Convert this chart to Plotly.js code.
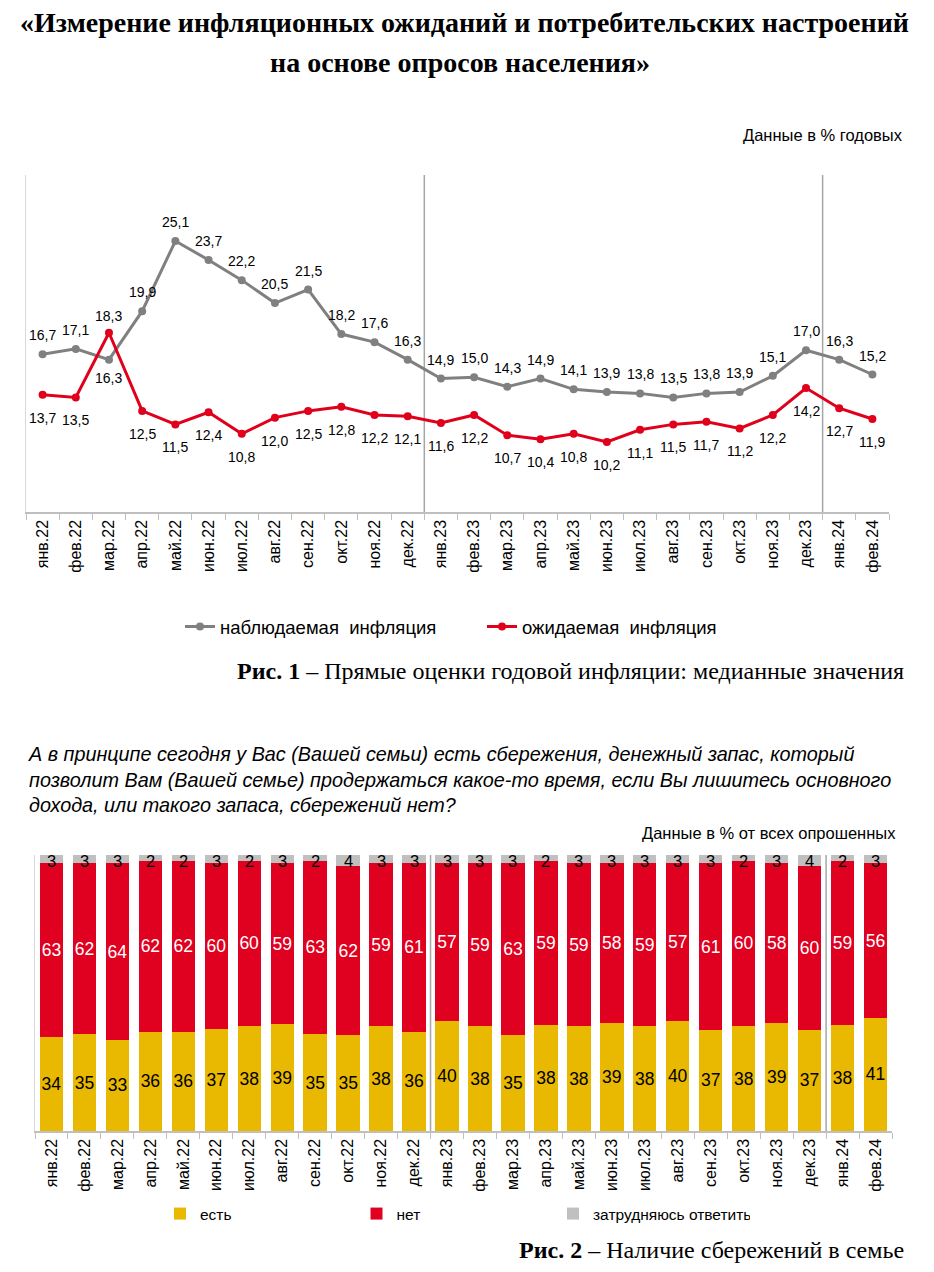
<!DOCTYPE html>
<html>
<head>
<meta charset="utf-8">
<script src="https://cdn.plot.ly/plotly-3.0.1.min.js"></script>
<style>
html,body{margin:0;padding:0;background:#fff;overflow:hidden;}
#chart{width:934px;height:1272px;}
</style>
</head>
<body>
<div id="chart"></div>
<script>
// ---------- DATA ----------
const months = ["янв.22","фев.22","мар.22","апр.22","май.22","июн.22","июл.22","авг.22","сен.22","окт.22","ноя.22","дек.22",
  "янв.23","фев.23","мар.23","апр.23","май.23","июн.23","июл.23","авг.23","сен.23","окт.23","ноя.23","дек.23","янв.24","фев.24"];
const observedInflation = [16.7,17.1,16.3,19.9,25.1,23.7,22.2,20.5,21.5,18.2,17.6,16.3,14.9,15.0,14.3,14.9,14.1,13.9,13.8,13.5,13.8,13.9,15.1,17.0,16.3,15.2];
const expectedInflation = [13.7,13.5,18.3,12.5,11.5,12.4,10.8,12.0,12.5,12.8,12.2,12.1,11.6,12.2,10.7,10.4,10.8,10.2,11.1,11.5,11.7,11.2,12.2,14.2,12.7,11.9];
const savingsYes = [34,35,33,36,36,37,38,39,35,35,38,36,40,38,35,38,38,39,38,40,37,38,39,37,38,41];
const savingsNo = [63,62,64,62,62,60,60,59,63,62,59,61,57,59,63,59,59,58,59,57,61,60,58,60,59,56];
const savingsHard = [3,3,3,2,2,3,2,3,2,4,3,3,3,3,3,2,3,3,3,3,3,2,3,4,2,3];
const seriesNames1 = ["наблюдаемая\u00a0 инфляция","ожидаемая\u00a0 инфляция"];
const seriesNames2 = ["есть","нет","затрудняюсь ответить"];
// ---------- STYLE ----------
const W = 934, H = 1272;
const px = x => x / W, py = y => 1 - y / H;
const SANS = "Liberation Sans, Arial, sans-serif";
const SERIF = "Liberation Serif, Times New Roman, serif";
const GRAY = "#808080", RED = "#E0001B", BAR_RED = "#E00020", YEL = "#E9B800", LGRAY = "#C0C0C0";
const fmt = v => v.toFixed(1).replace('.', ',');

const traces = [
  {x: months, y: observedInflation, name: seriesNames1[0], type: "scatter", mode: "lines+markers",
   line: {color: GRAY, width: 3}, marker: {color: GRAY, size: 8},
   xaxis: "x", yaxis: "y", legend: "legend", cliponaxis: false, hoverinfo: "skip"},
  {x: months, y: expectedInflation, name: seriesNames1[1], type: "scatter", mode: "lines+markers",
   line: {color: RED, width: 3}, marker: {color: RED, size: 8},
   xaxis: "x", yaxis: "y", legend: "legend", cliponaxis: false, hoverinfo: "skip"},
  {x: months, y: savingsYes, name: seriesNames2[0], type: "bar", marker: {color: YEL},
   text: savingsYes.map(String), textposition: "inside", insidetextanchor: "middle", constraintext: "none", textangle: 0,
   insidetextfont: {family: SANS, size: 17.5, color: "#000"}, xaxis: "x2", yaxis: "y2", legend: "legend2", hoverinfo: "skip"},
  {x: months, y: savingsNo, name: seriesNames2[1], type: "bar", marker: {color: BAR_RED},
   text: savingsNo.map(String), textposition: "inside", insidetextanchor: "middle", constraintext: "none", textangle: 0,
   insidetextfont: {family: SANS, size: 17.5, color: "#fff"}, xaxis: "x2", yaxis: "y2", legend: "legend2", hoverinfo: "skip"},
  {x: months, y: savingsHard, name: seriesNames2[2], type: "bar", marker: {color: LGRAY},
   textposition: "none", xaxis: "x2", yaxis: "y2", legend: "legend2", hoverinfo: "skip"}
];

// data labels for the line chart (placed through the axes, shifted above / below the points)
const labelAnns = [];
months.forEach((m, i) => {
  const o = observedInflation[i], e = expectedInflation[i];
  const obsAbove = o >= e;
  labelAnns.push({x: m, y: o, xref: "x", yref: "y", text: fmt(o), showarrow: false, xanchor: "center", yanchor: "middle",
    yshift: obsAbove ? 19 : -18, font: {family: SANS, size: 14, color: "#000"}});
  labelAnns.push({x: m, y: e, xref: "x", yref: "y", text: fmt(e), showarrow: false, xanchor: "center", yanchor: "middle",
    yshift: obsAbove ? -23 : 17, font: {family: SANS, size: 14, color: "#000"}});
});
// labels of the thin "затрудняюсь ответить" segments at the top of each (100 %) bar
months.forEach((m, i) => {
  labelAnns.push({x: m, y: 100, xref: "x2", yref: "y2", text: String(savingsHard[i]), showarrow: false,
    xanchor: "center", yanchor: "middle", yshift: -6, font: {family: SANS, size: 16.5, color: "#000"}});
});

const sep1 = months.indexOf("янв.23") - 0.5;
const sep2 = months.indexOf("янв.24") - 0.5;
const sepLine = (xref, yref, x) => ({type: "line", xref: xref, yref: yref + " domain", x0: x, x1: x, y0: 0, y1: 1,
  line: {color: "#A6A6A6", width: 1.5}, layer: "below"});

const tickFont = {family: SANS, size: 16, color: "#000"};
const layout = {
  width: W, height: H, margin: {l: 0, r: 0, t: 0, b: 0},
  paper_bgcolor: "#fff", plot_bgcolor: "#fff", showlegend: true,
  barmode: "stack", barnorm: "percent", bargap: 0.29,
  xaxis: {domain: [px(26), px(889)], anchor: "y", type: "category", range: [-0.5, 25.5],
    tickangle: -90, tickfont: tickFont, ticks: "outside", ticklen: 6, tickcolor: "#BFBFBF", tickson: "boundaries",
    showline: true, linecolor: "#BFBFBF", linewidth: 1.5, showgrid: false, zeroline: false, fixedrange: true},
  yaxis: {domain: [py(512), py(175)], anchor: "x", range: [5, 30], showticklabels: false, ticks: "",
    showgrid: false, zeroline: false, showline: true, linecolor: "#D9D9D9", linewidth: 1, fixedrange: true},
  xaxis2: {domain: [px(35), px(892)], anchor: "y2", type: "category", range: [-0.5, 25.5],
    tickangle: -90, tickfont: tickFont, ticks: "outside", ticklen: 6, tickcolor: "#BFBFBF", tickson: "boundaries",
    showline: true, linecolor: "#BFBFBF", linewidth: 1.5, showgrid: false, zeroline: false, fixedrange: true},
  yaxis2: {domain: [py(1131), py(855)], anchor: "x2", range: [0, 100], showticklabels: false, ticks: "",
    showgrid: false, zeroline: false, showline: true, linecolor: "#D9D9D9", linewidth: 1, fixedrange: true},
  legend: {orientation: "h", x: px(180), y: py(627), xanchor: "left", yanchor: "middle",
    font: {family: SANS, size: 18.5, color: "#000"}, entrywidth: 257, entrywidthmode: "pixels", bgcolor: "rgba(0,0,0,0)"},
  legend2: {orientation: "h", x: px(160), y: py(1214), xanchor: "left", yanchor: "middle", itemwidth: 30,
    font: {family: SANS, size: 15.5, color: "#000"}, entrywidth: 151.5, entrywidthmode: "pixels", bgcolor: "rgba(0,0,0,0)",
    traceorder: "normal"},
  shapes: [sepLine("x", "y", sep1), sepLine("x", "y", sep2), sepLine("x2", "y2", sep1), sepLine("x2", "y2", sep2)],
  annotations: labelAnns.concat([
    {text: "<b>«Измерение инфляционных ожиданий и потребительских настроений</b>", x: px(464), y: py(22), xref: "paper", yref: "paper",
     xanchor: "center", yanchor: "middle", showarrow: false, font: {family: SERIF, size: 28, color: "#000"}},
    {text: "<b>на основе опросов населения»</b>", x: px(460), y: py(62), xref: "paper", yref: "paper",
     xanchor: "center", yanchor: "middle", showarrow: false, font: {family: SERIF, size: 28, color: "#000"}},
    {text: "Данные в % годовых", x: px(905), y: py(135), xref: "paper", yref: "paper",
     xanchor: "right", yanchor: "middle", showarrow: false, font: {family: SANS, size: 16.5, color: "#000"}},
    {text: "<b>Рис. 1</b> – Прямые оценки годовой инфляции: медианные значения", x: px(906), y: py(671), xref: "paper", yref: "paper",
     xanchor: "right", yanchor: "middle", showarrow: false, font: {family: SERIF, size: 24, color: "#000"}},
    {text: "<i>А в принципе сегодня у Вас (Вашей семьи) есть сбережения, денежный запас, который<br>позволит Вам (Вашей семье) продержаться какое-то время, если Вы лишитесь основного<br>дохода, или такого запаса, сбережений нет?</i>",
     x: px(26), y: py(741), xref: "paper", yref: "paper", xanchor: "left", yanchor: "top", align: "left", showarrow: false,
     font: {family: SANS, size: 19.8, color: "#000"}},
    {text: "Данные в % от всех опрошенных", x: px(898), y: py(833), xref: "paper", yref: "paper",
     xanchor: "right", yanchor: "middle", showarrow: false, font: {family: SANS, size: 16.5, color: "#000"}},
    {text: "<b>Рис. 2</b> – Наличие сбережений в семье", x: px(906), y: py(1250), xref: "paper", yref: "paper",
     xanchor: "right", yanchor: "middle", showarrow: false, font: {family: SERIF, size: 24, color: "#000"}}
  ])
};

Plotly.newPlot("chart", traces, layout, {staticPlot: true, displayModeBar: false});
</script>
</body>
</html>
